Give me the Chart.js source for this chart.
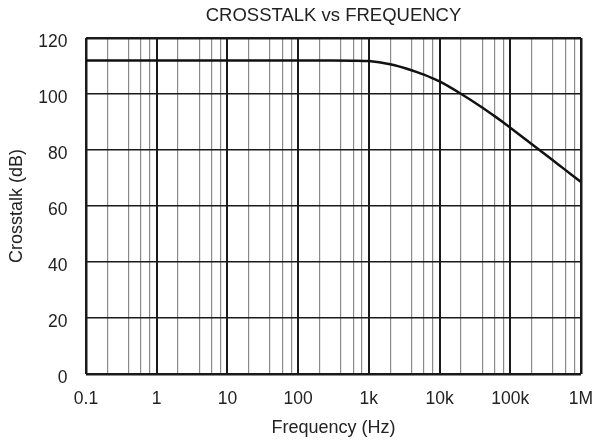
<!DOCTYPE html>
<html>
<head>
<meta charset="utf-8">
<script src="https://cdn.jsdelivr.net/npm/chart.js@4"></script>
<style>
html,body{margin:0;padding:0;background:#fff;}
#wrap{width:599px;height:443px;position:relative;}
</style>
</head>
<body>
<div id="wrap"><canvas id="c" width="599" height="443"></canvas></div>
<script>
// ---- data ----
const frequencies = [0.1, 1, 10, 100, 300, 600, 1000, 2000, 4000, 6000, 8000, 10000, 20000, 40000, 60000, 80000, 100000, 200000, 400000, 600000, 800000, 1000000];
const crosstalk   = [112, 112, 112, 112, 111.97, 111.9, 111.75, 110.6, 108.5, 106.9, 105.6, 104.5, 100.1, 95.2, 92.1, 89.8, 87.95, 82.15, 76.3, 72.9, 70.45, 68.55];
const xDecades    = [0.1, 1, 10, 100, 1000, 10000, 100000, 1000000];
const xTickLabels = ['0.1', '1', '10', '100', '1k', '10k', '100k', '1M'];
const yTicks      = [0, 20, 40, 60, 80, 100, 120];
const minorSteps  = [2, 4, 6, 8];

const xTickValues = [];
xDecades.forEach((d, i) => {
  xTickValues.push(d);
  if (i < xDecades.length - 1) minorSteps.forEach(m => xTickValues.push(+(d * m).toPrecision(6)));
});
function decadeIndex(v) { return xDecades.findIndex(d => Math.abs(d - v) / d < 1e-6); }
function isDecade(v) { return decadeIndex(v) >= 0; }

const FONT = "'Liberation Sans', Arial, sans-serif";

new Chart(document.getElementById('c'), {
  type: 'line',
  data: {
    datasets: [{
      data: frequencies.map((f, i) => ({x: f, y: crosstalk[i]})),
      borderColor: '#111',
      borderWidth: 2.5,
      pointRadius: 0,
      cubicInterpolationMode: 'monotone',
      fill: false
    }]
  },
  options: {
    responsive: false,
    animation: false,
    devicePixelRatio: 1,
    layout: {padding: {left: 0, right: 18, top: 0, bottom: 0}},
    plugins: {
      legend: {display: false},
      tooltip: {enabled: false},
      title: {
        display: true,
        text: 'CROSSTALK vs FREQUENCY',
        fullSize: false,
        color: '#222',
        font: {family: FONT, size: 18.5, weight: 'normal'},
        padding: {top: 5, bottom: 10.8}
      }
    },
    scales: {
      x: {
        type: 'logarithmic',
        min: 0.1,
        max: 1000000,
        afterBuildTicks: (s) => { s.ticks = xTickValues.map(v => ({value: v})); },
        afterFit: (s) => { s.height = 69; s.paddingLeft = 0; s.paddingRight = 0; },
        border: {display: false},
        grid: {
          drawTicks: false,
          color: (ctx) => isDecade(ctx.tick.value) ? '#1a1a1a' : '#8a8a8a',
          lineWidth: (ctx) => {
            const v = ctx.tick.value;
            if (Math.abs(v - 0.1) < 1e-9 || Math.abs(v - 1000000) < 1e-3) return 2.5;
            return isDecade(v) ? 2 : 1.2;
          }
        },
        ticks: {
          autoSkip: false,
          maxRotation: 0,
          padding: 14.5,
          color: '#222',
          font: {family: FONT, size: 17.5},
          callback: (v) => { const i = decadeIndex(v); return i >= 0 ? xTickLabels[i] : ''; }
        },
        title: {
          display: true,
          text: 'Frequency (Hz)',
          color: '#222',
          font: {family: FONT, size: 18},
          padding: {top: 0, bottom: 4}
        }
      },
      y: {
        min: 0,
        max: 120,
        afterBuildTicks: (s) => { s.ticks = yTicks.map(v => ({value: v})); },
        afterFit: (s) => { s.width = 86; s.paddingTop = 0; s.paddingBottom = 0; },
        border: {display: false},
        grid: {
          drawTicks: false,
          color: '#1a1a1a',
          lineWidth: (ctx) => (ctx.tick.value === 0 || ctx.tick.value === 120) ? 2.5 : 1.5
        },
        ticks: {
          padding: 18.5,
          labelOffset: 4,
          color: '#222',
          font: {family: FONT, size: 17.5}
        },
        title: {
          display: true,
          text: 'Crosstalk (dB)',
          color: '#222',
          font: {family: FONT, size: 18},
          padding: {top: 6, bottom: 0}
        }
      }
    }
  }
});
</script>
</body>
</html>
